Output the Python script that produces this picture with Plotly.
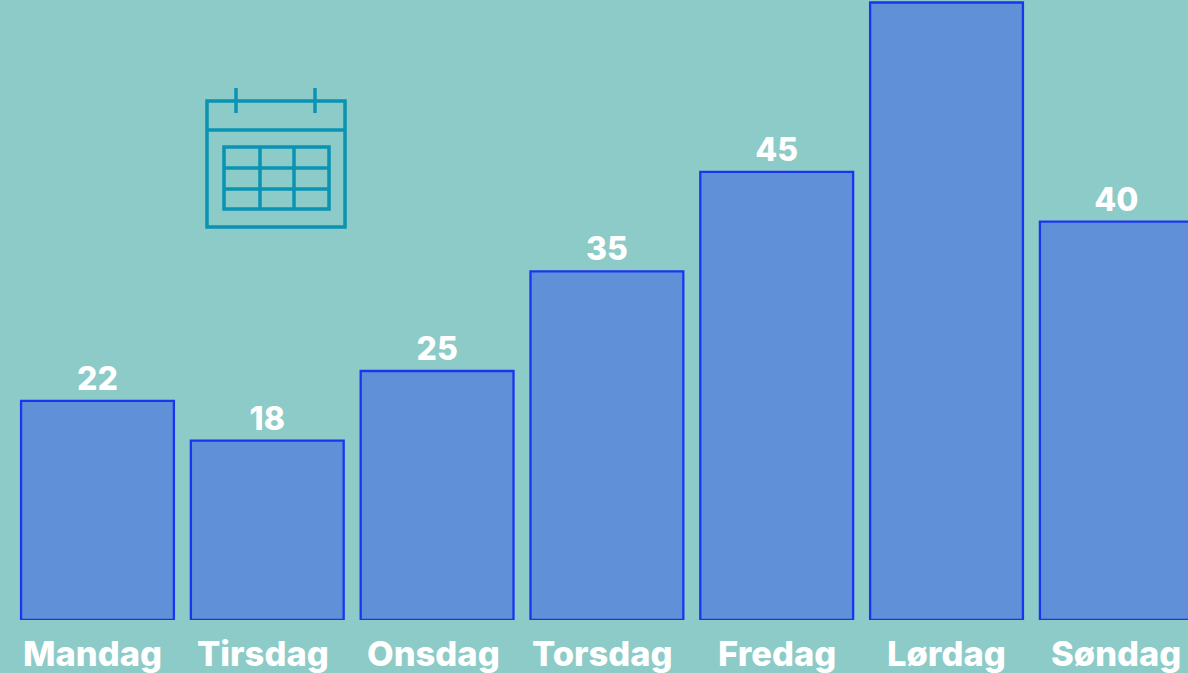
import plotly.graph_objects as go

days = ["Mandag", "Tirsdag", "Onsdag", "Torsdag", "Fredag", "Lørdag", "Søndag"]
values = [22, 18, 25, 35, 45, 62, 40]
value_labels = ["22", "18", "25", "35", "45", "", "40"]
label_shift = [-5, -4, -4, -4, 0, 0, 0]

W, H = 1188, 673
BG = "#8ccbc7"
ICON = "#0a93b2"
FONT = "Inter"


def px(x):
    return x / W


def py(y):
    return 1 - y / 620


def rect(x0, y0, x1, y1):
    return dict(type="rect", xref="paper", yref="paper", x0=px(x0), x1=px(x1),
                y0=py(y1), y1=py(y0), line=dict(color=ICON, width=3.5))


def line(x0, y0, x1, y1):
    return dict(type="line", xref="paper", yref="paper", x0=px(x0), x1=px(x1),
                y0=py(y1), y1=py(y0), line=dict(color=ICON, width=3.5))


shapes = [
    rect(207, 101, 345, 227), line(207, 130, 345, 130),
    line(236, 88, 236, 113), line(315, 88, 315, 113),
    rect(224, 147, 329, 209), line(260, 147, 260, 209), line(294, 147, 294, 209),
    line(224, 168, 329, 168), line(224, 189, 329, 189),
]

fig = go.Figure(go.Bar(
    x=list(range(len(days))), y=values, width=0.9,
    marker=dict(color="#6090d8", line=dict(color="#1a35f0", width=2.3)),
    text=value_labels, textposition="outside", cliponaxis=False,
    constraintext="none",
    textfont=dict(family=FONT, size=32, color="white", weight=800),
    hoverinfo="skip",
))

annotations = [
    dict(x=i, y=0, xref="x", yref="y", text=d, showarrow=False, xshift=s,
         yshift=-33, xanchor="center", yanchor="middle", borderpad=0,
         font=dict(family=FONT, size=34.5, color="white", weight=800))
    for i, (d, s) in enumerate(zip(days, label_shift))
]

fig.update_layout(
    width=W, height=H, autosize=False,
    margin=dict(l=0, r=0, t=0, b=53),
    paper_bgcolor=BG, plot_bgcolor=BG, showlegend=False,
    xaxis=dict(range=[-0.574, 6.422], showticklabels=False, showgrid=False,
               zeroline=False, showline=False, ticks=""),
    yaxis=dict(range=[0, 62.25], visible=False, showgrid=False, zeroline=False),
    shapes=shapes, annotations=annotations,
)
fig.write_html(
    "out.html",
    config=dict(displayModeBar=False),
    post_script="document.documentElement.style.margin='0';"
                "document.body.style.margin='0';"
                "document.body.style.overflow='hidden';",
)
